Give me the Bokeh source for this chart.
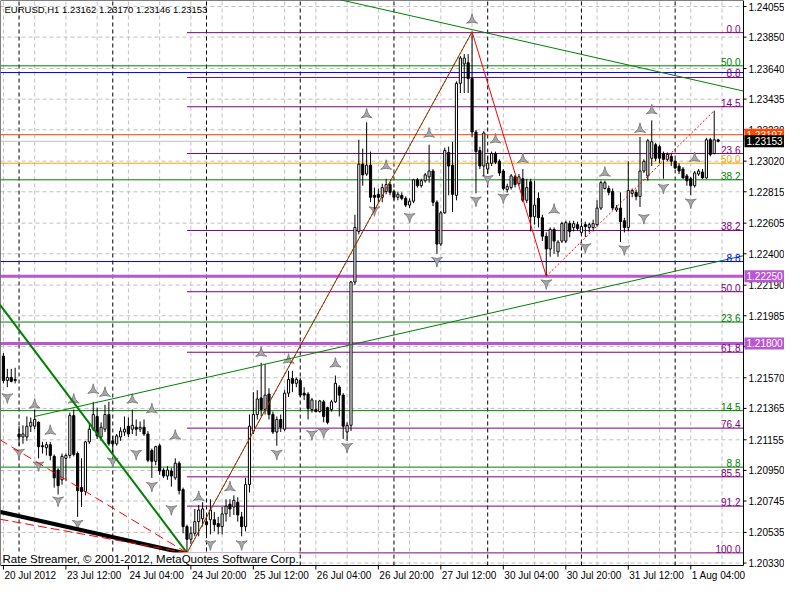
import math
from bokeh.plotting import figure
from bokeh.models import Range1d, Label, ColumnDataSource
from bokeh.core.properties import value
from bokeh.embed import file_html
from bokeh.resources import INLINE

FONT = "Liberation Sans"

# ---------------- data (EURUSD H1, bar 0 = 20 Jul 2012 20:00) ----------------
bar_open = [
    1.21715, 1.21552, 1.21572, 1.21559,
    1.21194, 1.21174, 1.21174, 1.21246, 1.21246, 1.21272, 1.21115, 1.21102, 1.21122, 1.21044, 1.20952, 1.20887,
    1.21031, 1.21050, 1.21317, 1.21063, 1.20835, 1.20809, 1.21141, 1.21226, 1.21311, 1.21174, 1.21226, 1.21324,
    1.21148, 1.21128, 1.21174, 1.21207, 1.21246, 1.21226, 1.21239, 1.21226, 1.21239, 1.21194, 1.21083, 1.21011,
    1.21115, 1.20952, 1.20913, 1.20946, 1.20900, 1.20998, 1.20822, 1.20574, 1.20489, 1.20529, 1.20607, 1.20626,
    1.20607, 1.20620, 1.20620, 1.20594, 1.20574, 1.20659, 1.20724, 1.20705, 1.20737, 1.20639, 1.20574, 1.20855,
    1.21213, 1.21324, 1.21435, 1.21357, 1.21461, 1.21324, 1.21207, 1.21291, 1.21226, 1.21467, 1.21565, 1.21533,
    1.21552, 1.21467, 1.21461, 1.21357, 1.21357, 1.21344, 1.21409, 1.21370, 1.21357, 1.21409, 1.21507, 1.21454,
    1.21207, 1.21252, 1.22211, 1.22550, 1.23000, 1.22934, 1.22993, 1.22791, 1.22798, 1.22778, 1.22817, 1.22863,
    1.22817, 1.22778, 1.22791, 1.22771, 1.22726, 1.22752, 1.22895, 1.22856, 1.22889, 1.22915, 1.22954, 1.22745,
    1.22465, 1.22674, 1.23078, 1.22993, 1.22791, 1.23541, 1.23671, 1.23678, 1.23573, 1.23215, 1.23091, 1.22987,
    1.22967, 1.23006, 1.23071, 1.23019, 1.22954, 1.22830, 1.22843, 1.22915, 1.22869, 1.22902, 1.22758, 1.22882,
    1.22648, 1.22771, 1.22641, 1.22517, 1.22432, 1.22563, 1.22413, 1.22485, 1.22485, 1.22602, 1.22576, 1.22595,
    1.22543, 1.22595, 1.22576, 1.22576, 1.22595, 1.22706, 1.22837, 1.22837, 1.22817, 1.22693, 1.22706, 1.22621,
    1.22576, 1.22804, 1.22811, 1.22784, 1.22954, 1.22921, 1.23039, 1.23130, 1.23117, 1.23071, 1.23032, 1.23052,
    1.23019, 1.22987, 1.22967, 1.22921, 1.22902, 1.22856, 1.22934, 1.22947, 1.22908, 1.23163, 1.23071, 1.23162,
]
bar_high = [
    1.21735, 1.21630, 1.21630, 1.21637,
    1.21246, 1.21252, 1.21311, 1.21304, 1.21357, 1.21278, 1.21141, 1.21141, 1.21141, 1.21057, 1.20965, 1.21063,
    1.21063, 1.21337, 1.21357, 1.21076, 1.21031, 1.21148, 1.21259, 1.21409, 1.21370, 1.21272, 1.21389, 1.21409,
    1.21181, 1.21194, 1.21239, 1.21311, 1.21304, 1.21357, 1.21291, 1.21278, 1.21291, 1.21213, 1.21096, 1.21115,
    1.21128, 1.20965, 1.20978, 1.20965, 1.21031, 1.21011, 1.20835, 1.20587, 1.20574, 1.20692, 1.20718, 1.20737,
    1.20659, 1.20757, 1.20672, 1.20639, 1.20705, 1.20757, 1.20757, 1.20783, 1.20770, 1.20672, 1.20900, 1.21324,
    1.21474, 1.21487, 1.21670, 1.21663, 1.21500, 1.21344, 1.21311, 1.21324, 1.21487, 1.21617, 1.21617, 1.21572,
    1.21572, 1.21507, 1.21474, 1.21435, 1.21422, 1.21422, 1.21422, 1.21376, 1.21422, 1.21585, 1.21520, 1.21467,
    1.21272, 1.22217, 1.22661, 1.23163, 1.23104, 1.23280, 1.23084, 1.22843, 1.22837, 1.22869, 1.22902, 1.22882,
    1.22830, 1.22817, 1.22811, 1.22784, 1.22771, 1.22902, 1.22908, 1.22902, 1.22941, 1.23130, 1.22967, 1.22758,
    1.22687, 1.23110, 1.23117, 1.23150, 1.23554, 1.23723, 1.23736, 1.23736, 1.23886, 1.23228, 1.23117, 1.23221,
    1.23052, 1.23084, 1.23084, 1.23032, 1.22967, 1.22869, 1.22934, 1.22928, 1.22934, 1.22967, 1.22902, 1.22902,
    1.22889, 1.22811, 1.22661, 1.22543, 1.22576, 1.22576, 1.22491, 1.22615, 1.22621, 1.22621, 1.22621, 1.22615,
    1.22608, 1.22615, 1.22608, 1.22628, 1.22758, 1.22889, 1.22889, 1.22856, 1.22837, 1.22726, 1.22811, 1.22641,
    1.23019, 1.22837, 1.22830, 1.23182, 1.23032, 1.23169, 1.23293, 1.23143, 1.23130, 1.23084, 1.23078, 1.23071,
    1.23032, 1.23006, 1.22980, 1.22934, 1.22915, 1.22954, 1.22967, 1.22967, 1.23176, 1.23176, 1.23358, 1.23170,
]
bar_low = [
    1.21533, 1.21507, 1.21539, 1.21533,
    1.21115, 1.21128, 1.21148, 1.21207, 1.21226, 1.21031, 1.21063, 1.21050, 1.21018, 1.20835, 1.20789, 1.20855,
    1.20881, 1.21031, 1.21044, 1.20639, 1.20705, 1.20783, 1.21128, 1.21213, 1.21161, 1.21148, 1.21207, 1.21115,
    1.21063, 1.21115, 1.21148, 1.21181, 1.21174, 1.21194, 1.21181, 1.21207, 1.21181, 1.21005, 1.20900, 1.20985,
    1.20920, 1.20900, 1.20887, 1.20842, 1.20887, 1.20789, 1.20529, 1.20398, 1.20457, 1.20509, 1.20509, 1.20574,
    1.20496, 1.20522, 1.20542, 1.20522, 1.20522, 1.20607, 1.20639, 1.20652, 1.20607, 1.20509, 1.20542, 1.20802,
    1.21194, 1.21291, 1.21311, 1.21324, 1.21291, 1.21194, 1.21115, 1.21207, 1.21213, 1.21441, 1.21474, 1.21507,
    1.21441, 1.21422, 1.21291, 1.21337, 1.21337, 1.21337, 1.21272, 1.21259, 1.21344, 1.21402, 1.21311, 1.21161,
    1.21148, 1.21213, 1.22191, 1.22530, 1.22856, 1.22921, 1.22745, 1.22693, 1.22739, 1.22745, 1.22798, 1.22791,
    1.22758, 1.22758, 1.22758, 1.22713, 1.22706, 1.22739, 1.22843, 1.22843, 1.22876, 1.22876, 1.22719, 1.22400,
    1.22452, 1.22667, 1.22791, 1.22680, 1.22758, 1.23476, 1.23476, 1.23476, 1.23182, 1.22804, 1.22967, 1.22921,
    1.22934, 1.22987, 1.23000, 1.22921, 1.22824, 1.22811, 1.22830, 1.22843, 1.22856, 1.22745, 1.22739, 1.22550,
    1.22595, 1.22576, 1.22485, 1.22250, 1.22380, 1.22400, 1.22380, 1.22472, 1.22472, 1.22511, 1.22550, 1.22556,
    1.22530, 1.22511, 1.22543, 1.22550, 1.22582, 1.22693, 1.22830, 1.22791, 1.22693, 1.22680, 1.22478, 1.22543,
    1.22550, 1.22778, 1.22758, 1.22713, 1.22941, 1.22889, 1.22987, 1.23019, 1.23006, 1.22902, 1.23019, 1.22987,
    1.22967, 1.22934, 1.22902, 1.22856, 1.22791, 1.22843, 1.22921, 1.22902, 1.22902, 1.23052, 1.23065, 1.23146,
]
bar_close = [
    1.21552, 1.21572, 1.21546, 1.21552,
    1.21174, 1.21194, 1.21246, 1.21272, 1.21291, 1.21109, 1.21109, 1.21122, 1.21050, 1.20900, 1.20848, 1.21044,
    1.21050, 1.21317, 1.21057, 1.20815, 1.20809, 1.21141, 1.21226, 1.21324, 1.21181, 1.21239, 1.21324, 1.21128,
    1.21128, 1.21181, 1.21213, 1.21226, 1.21194, 1.21252, 1.21226, 1.21239, 1.21194, 1.21018, 1.21011, 1.21109,
    1.20946, 1.20913, 1.20952, 1.20913, 1.20998, 1.20815, 1.20574, 1.20489, 1.20529, 1.20607, 1.20685, 1.20692,
    1.20587, 1.20685, 1.20587, 1.20574, 1.20659, 1.20711, 1.20692, 1.20750, 1.20652, 1.20574, 1.20855, 1.21246,
    1.21324, 1.21428, 1.21357, 1.21454, 1.21324, 1.21207, 1.21291, 1.21239, 1.21467, 1.21559, 1.21533, 1.21559,
    1.21454, 1.21454, 1.21363, 1.21422, 1.21344, 1.21415, 1.21311, 1.21272, 1.21409, 1.21533, 1.21454, 1.21246,
    1.21252, 1.22211, 1.22576, 1.23000, 1.22928, 1.22993, 1.22778, 1.22778, 1.22778, 1.22843, 1.22863, 1.22811,
    1.22778, 1.22798, 1.22771, 1.22726, 1.22752, 1.22895, 1.22856, 1.22889, 1.22928, 1.22954, 1.22745, 1.22465,
    1.22674, 1.23091, 1.22987, 1.22798, 1.23541, 1.23710, 1.23710, 1.23573, 1.23215, 1.23084, 1.22987, 1.23208,
    1.23006, 1.23071, 1.23013, 1.22941, 1.22837, 1.22850, 1.22921, 1.22863, 1.22915, 1.22758, 1.22843, 1.22648,
    1.22726, 1.22641, 1.22517, 1.22432, 1.22563, 1.22485, 1.22478, 1.22602, 1.22608, 1.22550, 1.22602, 1.22569,
    1.22582, 1.22582, 1.22595, 1.22602, 1.22706, 1.22876, 1.22876, 1.22811, 1.22706, 1.22706, 1.22615, 1.22576,
    1.22824, 1.22824, 1.22784, 1.22954, 1.23019, 1.23156, 1.23150, 1.23039, 1.23039, 1.23032, 1.23065, 1.23019,
    1.22974, 1.22954, 1.22908, 1.22889, 1.22856, 1.22941, 1.22954, 1.22908, 1.23163, 1.23065, 1.23163, 1.23153,
]

# price scale ticks and time scale labels
price_ticks = [1.24055, 1.23850, 1.23640, 1.23435, 1.23230, 1.23020, 1.22815, 1.22605, 1.22400, 1.22190,
               1.21985, 1.21780, 1.21570, 1.21365, 1.21155, 1.20950, 1.20745, 1.20535, 1.20330]
price_labels = ["1.24055", "1.23850", "1.23640", "1.23435", "1.23230", "1.23020", "1.22815", "1.22605",
                "1.22400", "1.22190", "1.21985", "", "1.21570", "1.21365", "1.21155", "1.20950", "1.20745",
                "1.20535", "1.20330"]
time_ticks = [0, 16, 32, 48, 64, 80, 96, 112, 128, 144, 160, 176]
time_labels = ["20 Jul 2012", "23 Jul 12:00", "24 Jul 04:00", "24 Jul 20:00", "25 Jul 12:00", "26 Jul 04:00",
               "26 Jul 20:00", "27 Jul 12:00", "30 Jul 04:00", "30 Jul 20:00", "31 Jul 12:00", "1 Aug 04:00"]
grid_ticks = list(range(0, 190, 8))
day_starts = [4, 28, 52, 76, 100, 124, 148, 172]

# fractal markers
up_fr_bar = [8, 12, 18, 23, 26, 33, 38, 44, 50, 58, 66, 73, 85, 93, 98, 109, 120, 126, 133, 141, 154, 163, 166, 177]
up_fr_price = [1.21389, 1.21213, 1.21422, 1.21487, 1.21467, 1.21422, 1.21357, 1.21181, 1.20770, 1.20835,
               1.21735, 1.21689, 1.21663, 1.23332, 1.22987, 1.23202, 1.23965, 1.23163, 1.23032, 1.22693,
               1.22941, 1.23234, 1.23358, 1.23039]
dn_fr_bar = [1, 4, 9, 14, 19, 28, 34, 38, 43, 53, 61, 70, 79, 82, 88, 95, 104, 111, 121, 124, 128, 139, 149,
             159, 164, 169, 176]
dn_fr_price = [1.21441, 1.21070, 1.20985, 1.20750, 1.20594, 1.21011, 1.21063, 1.20848, 1.20692, 1.20457,
               1.20457, 1.21063, 1.21194, 1.21207, 1.21109, 1.22693, 1.22648, 1.22354, 1.22758, 1.22902,
               1.22778, 1.22204, 1.22445, 1.22432, 1.22641, 1.22843, 1.22745]

# fibonacci / horizontal levels
purple_levels = [1.23880, 1.23580, 1.23384, 1.23071, 1.22556, 1.22146, 1.21741, 1.21233, 1.20907, 1.20711, 1.20398]
purple_texts = ["0.0", "8.8", "14.5", "23.6", "38.2", "50.0", "61.8", "76.4", "85.5", "91.2", "100.0"]
purple_from_bar = 47
green_levels = [1.23658, 1.22895, 1.21943, 1.21350, 1.20972]
green_texts = ["50.0", "38.2", "23.6", "14.5", "8.8"]
blue_levels = [1.23613, 1.22348]
blue_texts = ["", "8.8"]
orange_levels = [1.23006]
orange_texts = ["50.0"]
marked_levels = [1.22250, 1.21800]
ask_price = 1.23197
bid_price = 1.23153

# zigzag and trend lines (bar index, price)
zigzag_bar = [47, 120, 139, 182]
zigzag_price = [1.20398, 1.23886, 1.22250, 1.23358]
green_thick_bar = [-1, 47]
green_thick_price = [1.22063, 1.20398]
black_thick_bar = [-1, 47]
black_thick_price = [1.20673, 1.20392]
red_dash_bar = [-1, 47]
red_dash_price = [1.21157, 1.20398]
red_low_bar = [-1, 47]
red_low_price = [1.20624, 1.20398]
green_rise_bar = [8, 189.5]
green_rise_price = [1.21311, 1.22387]
green_top_bar = [80, 189.5]
green_top_price = [1.24137, 1.23489]

# ---------------- layout constants ----------------
W, H = 784, 584            # whole picture
CW, CH = 743, 565          # chart area (left/top part), rest = price scale and time scale
X0, X1 = -0.75, 189.5      # visible bars in chart area
Y0, Y1 = 1.203136, 1.240952
XR1 = X0 + (X1 - X0) * W / CW
YR0 = Y1 - (Y1 - Y0) * H / CH

p = figure(width=W, height=H, x_range=Range1d(X0, XR1), y_range=Range1d(YR0, Y1),
           x_axis_location=None, y_axis_location=None, output_backend="svg", toolbar_location=None,
           min_border=0)
p.grid.visible = False
p.outline_line_color = None
p.background_fill_color = "white"
p.border_fill_color = "white"

GRID = "#C0C0C0"
# grid
p.segment(x0=[X0] * len(price_ticks), x1=[X1] * len(price_ticks), y0=price_ticks, y1=price_ticks,
          line_color=GRID, line_dash="4 3", line_width=1)
p.segment(x0=grid_ticks, x1=grid_ticks, y0=[Y0] * len(grid_ticks), y1=[Y1] * len(grid_ticks),
          line_color=GRID, line_dash="4 3", line_width=1)
p.segment(x0=day_starts, x1=day_starts, y0=[Y0] * len(day_starts), y1=[Y1] * len(day_starts),
          line_color="black", line_dash="4 3", line_width=1)

# horizontal levels
def hlines(levels, start, color, width=1):
    p.segment(x0=[start] * len(levels), x1=[X1] * len(levels), y0=levels, y1=levels,
              line_color=color, line_width=width)

hlines(green_levels, X0, "#008000")
hlines(blue_levels, X0, "#0000FF")
hlines(orange_levels, X0, "#FFA500")
hlines(purple_levels, purple_from_bar, "#800080")
hlines(marked_levels, X0, "#BA55D3", 3)
hlines([ask_price], X0, "#FF4500")
hlines([bid_price], X0, "#C0C0C0")

# fractals
p.scatter(x=up_fr_bar, y=up_fr_price, marker="triangle_pin", size=11,
          fill_color="#A8A8A8", line_color="#808080")
p.scatter(x=dn_fr_bar, y=dn_fr_price, marker="triangle_pin", size=11, angle=math.pi,
          fill_color="#A8A8A8", line_color="#808080")

# candles
idx = list(range(len(bar_open)))
body_top = [max(o, c) for o, c in zip(bar_open, bar_close)]
body_bot = [min(o, c) for o, c in zip(bar_open, bar_close)]
body_fill = ["white" if c >= o else "black" for o, c in zip(bar_open, bar_close)]
src = ColumnDataSource(dict(x=idx, h=bar_high, l=bar_low, top=body_top, bot=body_bot, fill=body_fill))
p.segment(x0="x", x1="x", y0="l", y1="h", source=src, line_color="black", line_width=1)
p.vbar(x="x", width=0.55, top="top", bottom="bot", fill_color="fill", line_color="black",
       line_width=1, source=src)

# trend lines
p.line(green_thick_bar, green_thick_price, line_color="#008000", line_width=2)
p.line(black_thick_bar, black_thick_price, line_color="black", line_width=4)
p.line(red_low_bar, red_low_price, line_color="#FF0000", line_width=1, line_dash="9 4")
p.line(red_dash_bar, red_dash_price, line_color="#FF0000", line_width=1, line_dash="9 5")
p.line(green_rise_bar, green_rise_price, line_color="#008000", line_width=1)
p.line(green_top_bar, green_top_price, line_color="#008000", line_width=1)
p.line(zigzag_bar[0:2], zigzag_price[0:2], line_color="#FF0000", line_width=1)
p.line(zigzag_bar[0:2], zigzag_price[0:2], line_color="#008000", line_width=1, line_dash="2 2")
p.line(zigzag_bar[1:3], zigzag_price[1:3], line_color="#FF0000", line_width=1)
p.line(zigzag_bar[2:4], zigzag_price[2:4], line_color="#FF0000", line_width=1, line_dash="2 2")

# level texts
lv_y = purple_levels + green_levels + blue_levels + orange_levels
lv_t = purple_texts + green_texts + blue_texts + orange_texts
lv_c = (["#800080"] * len(purple_levels) + ["#008000"] * len(green_levels)
        + ["#0000FF"] * len(blue_levels) + ["#FFA500"] * len(orange_levels))
lsrc = ColumnDataSource(dict(x=[X1] * len(lv_y), y=lv_y, t=lv_t, c=lv_c))
p.text(x="x", y="y", text="t", text_color="c", source=lsrc, text_font=value(FONT),
       text_font_size=value("10px"), text_align=value("right"), text_baseline=value("bottom"),
       x_offset=-3, y_offset=0)

# chart frame (price scale line on the right, time scale line below)
p.quad(left=[X0], right=[X1], bottom=[Y0], top=[Y1], fill_color=None, line_color="black", line_width=1)

# price scale: tick marks and labels
p.ray(x=[X1] * len(price_ticks), y=price_ticks, length=3, length_units="screen", angle=0,
      line_color="black", line_width=1)
psrc = ColumnDataSource(dict(x=[X1] * len(price_ticks), y=price_ticks, t=price_labels))
p.text(x="x", y="y", text="t", source=psrc, text_color="black", text_font=value(FONT),
       text_font_size=value("10px"), text_align=value("left"), text_baseline=value("middle"), x_offset=5)

# time scale: tick marks and labels
p.ray(x=time_ticks, y=[Y0] * len(time_ticks), length=4, length_units="screen", angle=-math.pi / 2,
      line_color="black", line_width=1)
tsrc = ColumnDataSource(dict(x=time_ticks, y=[Y0] * len(time_ticks), t=time_labels))
p.text(x="x", y="y", text="t", source=tsrc, text_color="black", text_font=value(FONT),
       text_font_size=value("10px"), text_align=value("left"), text_baseline=value("top"),
       x_offset=1, y_offset=4)

# price tags on the price scale
tags = [(ask_price, "#FF4500"), (bid_price, "black"), (marked_levels[0], "#BA55D3"), (marked_levels[1], "#BA55D3")]
for pr, bg in tags:
    p.add_layout(Label(x=X1, y=pr, x_offset=1, text="%.5f" % pr, text_color="white",
                       text_font=FONT, text_font_size="10px", text_align="left", text_baseline="middle",
                       background_fill_color=bg, padding=2))

# header and footer
p.add_layout(Label(x=X0, y=Y1, x_offset=4, y_offset=-3, text="EURUSD,H1  1.23162 1.23170 1.23146 1.23153",
                   text_font=FONT, text_font_size="9.5px", text_color="black", text_baseline="top"))
p.add_layout(Label(x=X0, y=Y0, x_offset=2, y_offset=1,
                   text="Rate Streamer, \u00a9 2001-2012, MetaQuotes Software Corp.",
                   text_font=FONT, text_font_size="11.5px", text_color="black", text_baseline="bottom",
                   background_fill_color="white"))

open("out.html", "w").write(file_html(p, INLINE))
